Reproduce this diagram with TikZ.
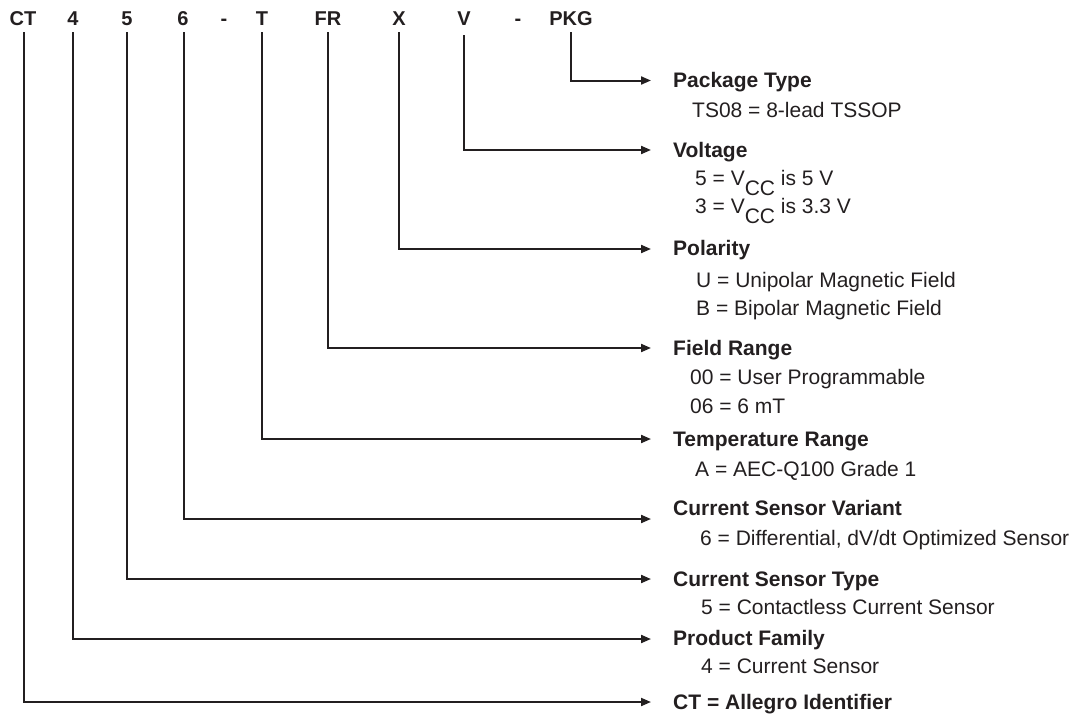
\documentclass[tikz,border=0pt]{standalone}
\usepackage{fontspec}
\setmainfont{Liberation Sans}
\usetikzlibrary{arrows.meta}
\definecolor{ink}{HTML}{231F20}
\begin{document}
\begin{tikzpicture}[x=1pt,y=-1pt,
  code/.style={font=\fontsize{20}{24}\selectfont\bfseries, text=ink, inner sep=0pt, anchor=base},
  head/.style={font=\fontsize{21}{25}\selectfont\bfseries, text=ink, inner sep=0pt, anchor=base west},
  desc/.style={font=\fontsize{21}{25}\selectfont, text=ink, inner sep=0pt, anchor=base west},
  conn/.style={draw=ink, line width=2pt, -{Triangle[length=10pt,width=8pt]}},
]
\useasboundingbox (0,0) rectangle (1074,716);

% top code labels
\node[code] (ct)  at (23,25)  {CT};
\node[code] (c4)  at (73,25)  {4};
\node[code] (c5)  at (127,25) {5};
\node[code] (c6)  at (183,25) {6};
\node[code] (d1)  at (224,25) {-};
\node[code] (cT)  at (262,25) {T};
\node[code] (cFR) at (328,25) {FR};
\node[code] (cX)  at (399,25) {X};
\node[code] (cV)  at (464,25) {V};
\node[code] (d2)  at (518,25) {-};
\node[code] (cP)  at (571,25) {PKG};

% arrow end points
\coordinate (ePKG) at (651,80.5);
\coordinate (eV)   at (651,150);
\coordinate (eX)   at (651,249);
\coordinate (eFR)  at (651,348);
\coordinate (eT)   at (651,439);
\coordinate (e6)   at (651,519);
\coordinate (e5)   at (651,579);
\coordinate (e4)   at (651,639);
\coordinate (eCT)  at (651,702);

% connectors
\draw[conn] ([yshift=-7pt]cP.south)  |- (ePKG);
\draw[conn] ([yshift=-10pt]cV.south) |- (eV);
\draw[conn] ([yshift=-7pt]cX.south)  |- (eX);
\draw[conn] ([yshift=-7pt]cFR.south) |- (eFR);
\draw[conn] ([yshift=-7pt]cT.south)  |- (eT);
\draw[conn] ([yshift=-7pt,xshift=1pt]c6.south) |- (e6);
\draw[conn] ([yshift=-7pt]c5.south)  |- (e5);
\draw[conn] ([yshift=-7pt]c4.south)  |- (e4);
\draw[conn] ([yshift=-7pt,xshift=1pt]ct.south)  |- (eCT);

% descriptions
\node[head] (hPKG) at (673,87)  {Package Type};
\node[desc] (tPKG) at (692,117) {TS08 = 8-lead TSSOP};

\node[head] (hV)  at (673,157) {Voltage};
\node[desc] (tV1) at (695,185) {5 = V\raisebox{-10pt}{CC} is 5 V};
\node[desc] (tV2) at (695,213) {3 = V\raisebox{-10pt}{CC} is 3.3 V};

\node[head] (hX)  at (673,255) {Polarity};
\node[desc] (tX1) at (696,287) {U = Unipolar Magnetic Field};
\node[desc] (tX2) at (696,315) {B = Bipolar Magnetic Field};

\node[head] (hFR)  at (673,355) {Field Range};
\node[desc] (tFR1) at (690,384) {00 = User Programmable};
\node[desc] (tFR2) at (690,413) {06 = 6 mT};

\node[head] (hT) at (673,446) {Temperature Range};
\node[desc] (tT) at (695,476) {A = AEC-Q100 Grade 1};

\node[head] (h6) at (673,515) {Current Sensor Variant};
\node[desc] (t6) at (700,545) {6 = Differential, dV/dt Optimized Sensor};

\node[head] (h5) at (673,586) {Current Sensor Type};
\node[desc] (t5) at (701,614) {5 = Contactless Current Sensor};

\node[head] (h4) at (673,645) {Product Family};
\node[desc] (t4) at (701,673) {4 = Current Sensor};

\node[head] (hCT) at (673,709) {CT = Allegro Identifier};
\end{tikzpicture}
\end{document}
